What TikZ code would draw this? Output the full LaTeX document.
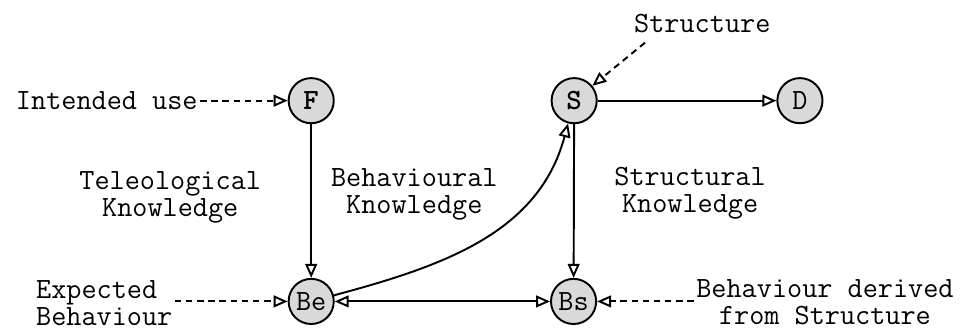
\documentclass[tikz,border=0pt]{standalone}
\usepackage{fontspec}
\usetikzlibrary{arrows.meta,positioning}
\definecolor{kgray}{RGB}{217,217,217}
\tikzset{
  knode/.style={circle, draw, line width=0.9pt, fill=kgray, minimum size=0.74cm, inner sep=0pt},
  klabel/.style={align=center, inner sep=1pt},
  kline/.style={line width=0.9pt, -{Triangle[open,length=6.5pt,width=5.5pt]}},
  kdash/.style={kline, dash pattern=on 3pt off 2.2pt}
}
\begin{document}
\begin{tikzpicture}[font=\ttfamily\fontsize{13.7pt}{12.6pt}\selectfont]
\useasboundingbox (0,0) rectangle (15.93,5.39);
% Nodes
\node[knode] (f) at (5.10,3.74) {\bfseries F};
\node[knode] (s) at (9.41,3.74) {\bfseries S};
\node[knode] (d) at (13.11,3.74) {D};
\node[knode] (be) at (5.10,0.45) {Be};
\node[knode] (bs) at (9.40,0.45) {Bs};
% Labels
\node[klabel] (use) at (1.75,3.74) {Intended use};
\node[klabel] (struct) at (11.51,5.00) {Structure};
\coordinate (structend) at (10.57,4.69);
\node[klabel] (teleo) at (2.79,2.15) {Teleological\\Knowledge};
\node[klabel] (behav) at (6.79,2.20) {Behavioural\\Knowledge};
\node[klabel] (structk) at (11.31,2.23) {Structural\\Knowledge};
\node[klabel, align=left, anchor=west] (exp) at (0.55,0.43) {Expected\\Behaviour};
\node[klabel] (derived) at (13.52,0.43) {Behaviour derived\\from Structure};
% Solid connectors
\draw[kline] (f) -- (be);
\draw[kline] (s) -- (d);
\draw[kline] (s) -- (bs);
\draw[kline, {Triangle[open,length=6.5pt,width=5.5pt]}-{Triangle[open,length=6.5pt,width=5.5pt]}] (be) -- (bs);
\draw[kline] (be) to[out=15, in=-105] (s);
% Dashed connectors
\draw[kdash] (use) -- (f);
\draw[kdash] (structend) -- (s);
\draw[kdash] (exp.east |- be) -- (be);
\draw[kdash] (derived.west |- bs) -- (bs);
\end{tikzpicture}
\end{document}
